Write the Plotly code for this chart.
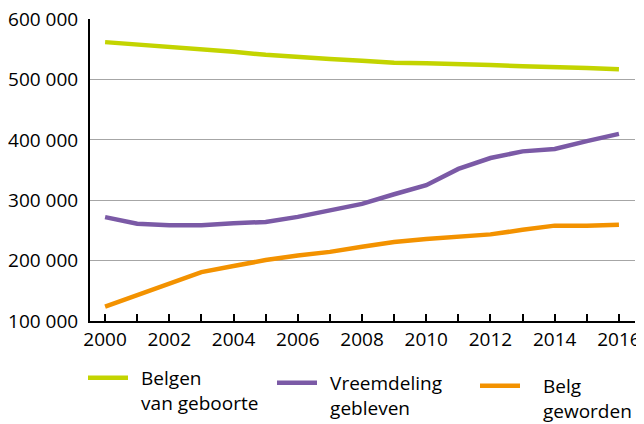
import plotly.graph_objects as go

years = list(range(2000, 2017))

belgen_van_geboorte = [562000, 558000, 555000, 551000, 546000, 541000, 537000, 534000,
                       531000, 528000, 527000, 526000, 524000, 522000, 521000, 519000, 517000]
vreemdeling_gebleven = [272000, 261000, 258500, 258500, 262000, 264000, 272500, 282500,
                        294000, 310000, 325000, 352000, 370000, 381000, 385000, 398000, 410000]
belg_geworden = [124000, 143000, 163000, 181000, 191000, 201000, 208500, 214500,
                 223000, 231000, 236000, 240500, 243500, 251000, 258000, 258000, 259500]

pad = "\u00a0\u2009"
pad3 = "\u00a0\u00a0\u00a0\u2009"
names = [pad + "Belgen<br>" + pad + "van geboorte",
         pad + "Vreemdeling<br>" + pad + "gebleven",
         pad3 + "Belg<br>" + pad3 + "geworden"]
colors = ["#c3d400", "#7b5aa6", "#f39200"]
series = [belgen_van_geboorte, vreemdeling_gebleven, belg_geworden]

W, H = 644, 424
# page body adds an 8px offset, so positions here are shifted by -8
leg_pos = [(75, 351), (264, 356), (467, 359)]

fig = go.Figure()
for i, (name, vals, col) in enumerate(zip(names, series, colors)):
    lg = "legend" if i == 0 else "legend%d" % (i + 1)
    fig.add_trace(go.Scatter(x=years, y=vals, name=name, mode="lines",
                             line=dict(color=col, width=4.5), legend=lg))

legend_common = dict(xref="container", yref="container", xanchor="left", yanchor="top",
                     valign="top", font=dict(family="Open Sans", size=19, color="black"),
                     itemwidth=40, bgcolor="rgba(0,0,0,0)", borderwidth=0)
layout_legends = {}
for i, (lx, ly) in enumerate(leg_pos):
    lg = "legend" if i == 0 else "legend%d" % (i + 1)
    layout_legends[lg] = dict(x=lx / W, y=1 - ly / H, **legend_common)

fig.update_layout(
    width=W, height=H,
    margin=dict(l=82, r=17, t=11, b=111, autoexpand=False),
    paper_bgcolor="white", plot_bgcolor="white",
    font=dict(family="Open Sans", size=19, color="black"),
    showlegend=True,
    **layout_legends,
)
fig.update_xaxes(range=[1999.53, 2016.5], tickmode="array",
                 tickvals=years,
                 ticktext=[str(y) if y % 2 == 0 else "" for y in years],
                 showline=True, linecolor="black", linewidth=2,
                 ticks="inside", ticklen=7, tickcolor="black", tickwidth=1.5,
                 showgrid=False, zeroline=False, ticklabelstandoff=0,
                 ticklabeloverflow="allow")
fig.update_yaxes(range=[100000, 600300], tickvals=[100000, 200000, 300000, 400000, 500000, 600000],
                 ticktext=["100 000", "200 000", "300 000", "400 000", "500 000", "600 000"],
                 showline=True, linecolor="black", linewidth=2,
                 showgrid=True, gridcolor="#a6a6a6", gridwidth=1,
                 zeroline=False, ticks="", ticklabelstandoff=6,
                 ticklabeloverflow="allow")

fig.write_html("out.html")
